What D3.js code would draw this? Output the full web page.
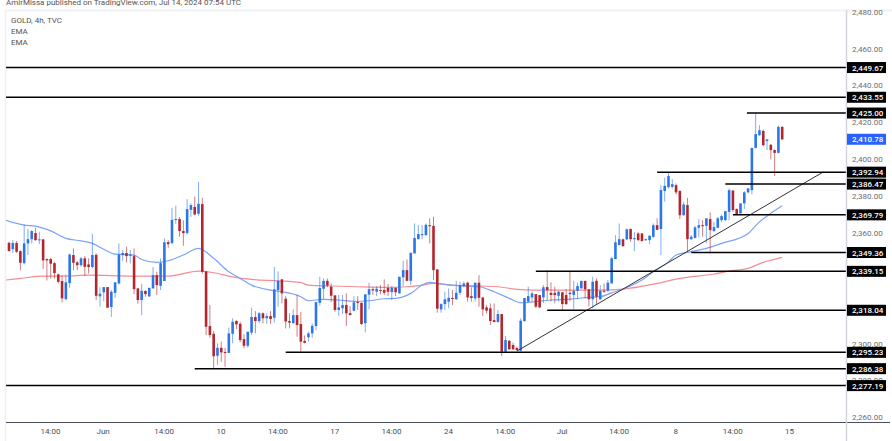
<!DOCTYPE html>
<html>
<head>
<meta charset="utf-8">
<script src="https://cdn.jsdelivr.net/npm/d3@7"></script>
<style>
    html, body { margin: 0; padding: 0; background: #fff; overflow: hidden; }
    text { font-family: Roboto, sans-serif; }
    .axis path, .axis line { display: none; }
</style>
</head>
<body>
<div id="chart"></div>
<script>
const opens = [
    2354.6,2351.2,2354.5,2350.1,2343.6,2354.3,2356.6,2359.9,2356.3,2356.5,
    2345.8,2345.8,2343.6,2337.5,2333.9,2324.1,2332.8,2348,2344,2342.5,
    2346.2,2342.9,2341.5,2348.1,2325.6,2327.8,2330.6,2319.8,2327.5,2332.6,
    2348,2349.1,2347.6,2347.4,2329.9,2323.6,2328.5,2325.6,2329.9,2337.1,
    2331.3,2333.9,2355,2354.5,2367.1,2367.5,2361,2359.9,2372.5,2374.1,
    2370.4,2375.6,2339.1,2309.5,2305.3,2293.4,2297.7,2295.4,2294.9,2305.3,
    2312.2,2310.7,2302.4,2298.8,2305.9,2314.4,2312.2,2316.4,2313.7,2314.9,
    2314,2329,2334.8,2324.3,2312.2,2311,2315.4,2310.6,2301.4,2303.4,
    2305.5,2309.5,2322.1,2329.7,2334,2330.8,2326.1,2318.2,2319.1,2320.9,
    2316.5,2317.8,2322.5,2322.1,2311,2326.5,2329.5,2328.1,2329,2329,
    2330.1,2327.9,2330.2,2327.2,2335.9,2339.8,2334,2348.9,2356.6,2358.8,
    2358.8,2364.2,2363.8,2340.2,2318.5,2321.4,2322.7,2324.7,2324,2327.5,
    2331.2,2333,2325.7,2324.5,2333,2325,2319.6,2319.1,2312.7,2311.7,
    2316,2295.6,2301.5,2299.2,2297.6,2296.1,2312.2,2322.7,2325,2326.8,
    2326.3,2325,2330.6,2327.5,2327.5,2325.9,2327.8,2326.3,2327.5,2326.3,
    2328.6,2329.9,2334,2329.4,2324,2334,2324,2328.6,2328.6,2332.6,
    2345.8,2353.4,2356.5,2356.5,2362.1,2356.6,2359.7,2359.7,2356.1,2356.1,
    2357.9,2364.2,2362.1,2382.7,2384.8,2385,2385.9,2382.7,2369.6,2375.1,
    2356.6,2357.3,2362.8,2364.2,2363.8,2367.5,2361,2362.8,2366.9,2366.9,
    2371.4,2383,2372.9,2370.6,2376,2382,2383.2,2406.1,2413,2415.3,
    2409.8,2407.8,2404.9,2403.4,2417.5
];
const closes = [
    2350.1,2354.5,2349.8,2343.8,2354.3,2356.6,2361,2356.1,2356.5,2345.1,
    2345.1,2343.3,2338.2,2333.5,2324.5,2333.2,2348.3,2343.8,2342.5,2346.2,
    2341.6,2341.5,2348,2325.9,2327,2330.6,2319.4,2328.1,2333.2,2348.3,
    2349.1,2347.4,2348.3,2329.5,2323.6,2328.6,2326.8,2330.2,2337.1,2331.7,
    2343.6,2354.9,2353.9,2367.1,2367.5,2361,2359.9,2372.9,2375.1,2370,
    2375.8,2338.9,2309.1,2304.6,2293.1,2297.7,2295.2,2295,2305.5,2311.8,
    2310.4,2301.9,2298.8,2306.4,2314.4,2312.2,2316.4,2313.7,2314.9,2313.3,
    2329.4,2334,2327.2,2312,2311.3,2315.4,2310,2301,2300.4,2305.5,
    2309.6,2322.5,2330.1,2334,2331.5,2325.9,2318.2,2319.6,2320.9,2316.4,
    2315.4,2322.3,2322,2310.6,2326.7,2329.5,2328.8,2329.7,2328.5,2327.5,
    2328.1,2330.2,2327.8,2336.2,2339.8,2334,2349.2,2357.2,2359.4,2359.4,
    2364.4,2363.8,2339.8,2318.9,2321.4,2324,2324.8,2324.3,2327.5,2331.7,
    2332.6,2325,2324.7,2333,2324.8,2318.5,2317.8,2312.2,2311.7,2316,
    2295.6,2301.9,2296.9,2296.9,2296.5,2312.4,2324.7,2325.7,2327.2,2320,
    2319.6,2330.5,2329,2326.3,2326.3,2328.1,2321.4,2321.4,2326.8,2328.6,
    2331.2,2334,2329.4,2324,2333.5,2325.4,2328.6,2328.1,2333,2346.2,
    2354.9,2356.6,2352.8,2361.9,2356.6,2357.2,2356.1,2355.6,2356.6,2358.4,
    2364.2,2361.7,2383.2,2385.5,2390.8,2386.4,2382,2369.6,2375.4,2356.6,
    2357.9,2363,2364.2,2363.7,2367.9,2361.5,2363.1,2367.9,2369.1,2371.8,
    2383.2,2372.4,2370,2376,2382,2384.1,2406.1,2413.6,2415.7,2407.6,
    2410.7,2404.9,2403.4,2417.5,2410.78
];
const highs = [
    2355.2,2356.1,2355.6,2350.5,2364.6,2362.1,2361.5,2362.8,2360.6,2356.6,
    2346.2,2346.5,2344.3,2338,2337.1,2337.5,2348.7,2351.6,2344.7,2347,
    2347.4,2346.2,2359.5,2348.9,2330.5,2330.6,2330.6,2329,2333.2,2354.3,
    2350.7,2352.5,2350.7,2351.6,2330.2,2332.3,2329,2330.2,2341.5,2338.9,
    2346.2,2357,2356.1,2373.6,2374.7,2368.6,2366.9,2378.3,2376,2379.6,
    2387.7,2379,2339.3,2320.9,2306.8,2300.1,2301,2297.7,2308.6,2313.7,
    2312.6,2311.8,2305,2306.4,2319.4,2317.6,2317.2,2316.9,2316.4,2317.6,
    2341.6,2339.1,2334.8,2325.7,2316.4,2318.5,2326.3,2317.1,2304.4,2306.4,
    2310.9,2322.5,2336.2,2335.3,2335.3,2332.6,2326.3,2326.3,2326.3,2327.2,
    2320.3,2325.7,2325.7,2322.1,2326.7,2333,2330.5,2331.2,2331.7,2334.8,
    2332.3,2331.2,2330.5,2336.2,2344.9,2345.6,2349.2,2365.1,2364.2,2364.2,
    2365.1,2367.9,2368.7,2340.2,2321.8,2328.1,2329.9,2329,2334,2333.5,
    2333.5,2333.5,2330.5,2333,2337.1,2325,2320.9,2321.8,2321.8,2318.2,
    2316,2304.1,2301.9,2300.4,2298.3,2313.7,2324.7,2330.8,2328.1,2326.8,
    2326.3,2331.7,2339.8,2333.2,2330.8,2328.6,2327.8,2329.4,2338.8,2334,
    2333,2334,2334,2329.4,2336.2,2335.3,2331.7,2332.6,2334.4,2347,
    2358.8,2365.1,2357,2362.4,2362.4,2360.4,2360.4,2359.9,2357,2358.8,
    2365.1,2367.9,2385.9,2389.9,2392.7,2389.2,2386.8,2383.2,2376.9,2379,
    2358.8,2363.9,2367.5,2366.9,2367.9,2371.1,2366,2368.7,2370,2371.8,
    2384.1,2383,2373.3,2376,2382.7,2384.4,2406.1,2424.8,2418.4,2416.1,
    2410.7,2408.1,2405.3,2418.3,2417.9
];
const lows = [
    2350.1,2349.1,2349.1,2339.8,2342.9,2348,2354.3,2355.7,2353.9,2340.4,
    2334.2,2335.3,2335.3,2332.6,2322.3,2323.4,2330.2,2339.8,2339.7,2341.6,
    2336.7,2338,2340.8,2323.6,2320,2323,2319.4,2314.5,2324.8,2332.1,
    2344.7,2344,2343.5,2326.7,2321.6,2315.4,2325.4,2325.2,2329.9,2326.3,
    2329,2333.9,2351.9,2353.8,2364.9,2357.9,2353,2359.2,2368.7,2369.6,
    2369.3,2338,2304.6,2303.1,2286.6,2288.3,2290.1,2287.4,2294.9,2300.1,
    2307.9,2300.7,2297.4,2297.7,2304.6,2305.5,2311.1,2310.9,2310.6,2310.6,
    2311.3,2320,2321.8,2308.2,2308.2,2311,2303.7,2295.6,2300.1,2301,
    2303.1,2307.3,2320.5,2324,2330.5,2322.5,2317.2,2314.9,2316,2309.5,
    2315.4,2317.5,2318.2,2310,2305.9,2318.5,2326.3,2325.7,2326.7,2326.3,
    2325.7,2323.6,2325.7,2327.2,2331.2,2334,2331.7,2348.9,2356.5,2356.5,
    2358.3,2354.3,2334.4,2316.7,2316.7,2318.2,2319.1,2320.9,2323.6,2326.3,
    2330.5,2322.7,2322.7,2322.7,2320,2314.9,2316.4,2310,2311.5,2311.3,
    2293.2,2295.6,2296.5,2296.5,2296.1,2295.6,2311.8,2322.5,2322.7,2319.2,
    2319.2,2322,2323.6,2322.7,2321.8,2322.7,2318.2,2320.9,2323,2318.7,
    2324,2329.9,2324.7,2320,2319.1,2320.9,2323.6,2327.5,2328.1,2332.6,
    2345.8,2353.4,2352.5,2356.1,2355.2,2350.1,2355.6,2355.2,2355.6,2353.8,
    2357.3,2361.4,2348,2376.9,2384.1,2384.1,2380.9,2367.5,2369.3,2349.8,
    2356.1,2357,2357.7,2357.9,2354.5,2348.9,2360.6,2362.4,2366,2366.4,
    2366.9,2371.4,2369.6,2369.6,2372.9,2381.4,2380.9,2405.8,2412.5,2407,
    2404.9,2399.8,2390.8,2403.1,2410.3
];

// EMAs at these bars
const fastEmaBars = [-1,4,7,11,15,19,22,25,28,33,35,39,42,46,50,54,58,61,64,69,72,77,79,83,87,91,95,99,102,106,109,111,113,120,124,128,132,135,137,143,148,153,156,159,162,167,170,174,176,180,184,188,195,198,201,204];
const fastEmaValues = [2366.9,2364.2,2363.7,2361.1,2357,2355.7,2354.3,2351.1,2348.5,2348,2345.6,2344,2344.9,2348,2351.6,2346.2,2338.9,2335.3,2331.7,2329,2328.1,2325.4,2323.2,2324,2323.6,2322.9,2323.2,2324.3,2324.5,2327.2,2331.7,2333.2,2332.6,2331.2,2330.8,2328.1,2324.5,2322.1,2322.3,2323.6,2324.1,2325,2325.4,2327.5,2329.5,2334.4,2338.9,2344.3,2348,2349.8,2351.6,2354.3,2359.7,2366,2370.6,2374.7];
const slowEmaBars = [-1,3,9,15,21,33,42,50,54,59,64,71,77,79,85,92,100,105,109,112,116,123,129,134,139,148,156,162,171,177,186,190,195,199,204];
const slowEmaValues = [2334.4,2335.3,2336.6,2336.6,2337.1,2336.6,2336.6,2339.3,2338.4,2336.2,2334.8,2334,2333,2331.7,2331.2,2330.8,2330.5,2330.8,2331.7,2332.6,2331.7,2331.3,2330.8,2329.4,2329,2329,2329,2329.5,2332.6,2335.3,2337.7,2339.3,2340.8,2344,2346.7];

// horizontal levels and the bar each one starts from (null = left edge)
const levelValues = [2449.67,2433.55,2425.00,2392.94,2386.47,2369.79,2349.36,2339.15,2318.04,2295.23,2286.38,2277.19];
const levelStartBars = [null,null,194.7,171,189,191,180,139,142,73,49,null];

const trendBars = [134,214.8];
const trendValues = [2295.9,2393];

const priceTicks = [2480,2460,2440,2420,2400,2380,2360,2340,2320,2300,2280,2260];
const lastPrice = 2410.78;
const timeTickBars = [10.8,24.7,40.8,55.8,70.8,85.8,100.8,115.8,130.8,145.8,160.8,175.8,190.8,205.8];
const timeTickLabels = ["14:00","Jun","14:00","10","14:00","17","14:00","24","14:00","Jul","14:00","8","14:00","15"];
const legendLines = ["GOLD, 4h, TVC","EMA","EMA"];

document.addEventListener('DOMContentLoaded', () => {
    const width = 892;
    const height = 441;
    const paneLeft = 6;
    const paneRight = 846;
    const paneTop = 10;
    const paneBottom = 422;
    const upColor = "#2b76ea";
    const downColor = "#b2262e";
    const priceFormat = d3.format(",.2f");

    const svg = d3.select("#chart")
        .append("svg")
        .attr("width", width)
        .attr("height", height);

    const x = d3.scaleLinear().domain([0, 204]).range([9, 782.2]);
    const y = d3.scaleLinear().domain([2260, 2460]).range([417.3, 48.5]);

    svg.append("defs").append("clipPath")
        .attr("id", "pane")
        .append("rect")
        .attr("x", paneLeft)
        .attr("y", paneTop)
        .attr("width", paneRight - paneLeft)
        .attr("height", paneBottom - paneTop);

    // frame
    svg.append("line").attr("x1", 5.5).attr("x2", 5.5).attr("y1", 10).attr("y2", 441).attr("stroke", "#eef0f6").attr("stroke-width", 1.5);
    svg.append("line").attr("x1", 5).attr("x2", 892).attr("y1", 10.5).attr("y2", 10.5).attr("stroke", "#f0f1f6").attr("stroke-width", 2);

    const pane = svg.append("g").attr("clip-path", "url(#pane)");

    const emaLine = d3.line().x(d => x(d[0])).y(d => y(d[1])).curve(d3.curveMonotoneX);

    pane.append("path")
        .datum(d3.zip(slowEmaBars, slowEmaValues))
        .attr("d", emaLine)
        .attr("fill", "none")
        .attr("stroke", "#f58d92")
        .attr("stroke-width", 1.2);

    pane.append("path")
        .datum(d3.zip(fastEmaBars, fastEmaValues))
        .attr("d", emaLine)
        .attr("fill", "none")
        .attr("stroke", "#7ba3f7")
        .attr("stroke-width", 1.2);

    const candles = pane.append("g")
        .selectAll("g")
        .data(opens.map((open, i) => ({ i, open, close: closes[i], high: highs[i], low: lows[i] })))
        .enter()
        .append("g");

    candles.append("line")
        .attr("x1", d => x(d.i))
        .attr("x2", d => x(d.i))
        .attr("y1", d => y(d.high))
        .attr("y2", d => y(d.low))
        .attr("stroke", d => d.close >= d.open ? upColor : downColor)
        .attr("stroke-opacity", 0.6)
        .attr("stroke-width", 1);

    candles.append("rect")
        .attr("x", d => x(d.i) - 1.3)
        .attr("width", 2.6)
        .attr("y", d => y(Math.max(d.open, d.close)))
        .attr("height", d => Math.max(1, Math.abs(y(d.open) - y(d.close))))
        .attr("fill", d => d.close >= d.open ? upColor : downColor);

    // trend line
    pane.append("line")
        .attr("x1", x(trendBars[0]))
        .attr("x2", x(trendBars[1]))
        .attr("y1", y(trendValues[0]))
        .attr("y2", y(trendValues[1]))
        .attr("stroke", "#333")
        .attr("stroke-width", 1);

    // levels
    pane.append("g")
        .selectAll("line")
        .data(levelValues)
        .enter()
        .append("line")
        .attr("x1", (d, i) => levelStartBars[i] === null ? paneLeft : x(levelStartBars[i]))
        .attr("x2", paneRight)
        .attr("y1", d => y(d))
        .attr("y2", d => y(d))
        .attr("stroke", "#000")
        .attr("stroke-width", 1.5);

    // price axis
    const priceAxis = svg.append("g")
        .attr("class", "axis")
        .attr("transform", `translate(${paneRight},0)`)
        .call(d3.axisRight(y).tickValues(priceTicks).tickFormat(priceFormat).tickSize(0).tickPadding(6));

    priceAxis.selectAll("text")
        .attr("fill", "#6a6d78")
        .attr("font-size", 8);

    // time axis
    const timeAxis = svg.append("g")
        .attr("class", "axis")
        .attr("transform", `translate(0,${paneBottom})`)
        .call(d3.axisBottom(x).tickValues(timeTickBars).tickFormat((d, i) => timeTickLabels[i]).tickSize(0).tickPadding(6));

    timeAxis.selectAll("text")
        .attr("fill", "#4a4d58")
        .attr("font-size", 8);

    svg.append("line").attr("x1", 6).attr("x2", 890).attr("y1", paneBottom + 0.5).attr("y2", paneBottom + 0.5).attr("stroke", "#4a4e5c").attr("stroke-width", 1);
    svg.append("line").attr("x1", paneRight + 0.5).attr("x2", paneRight + 0.5).attr("y1", 10).attr("y2", 441).attr("stroke", "#d3d5dc").attr("stroke-width", 1.5);

    // price labels on the axis
    const labels = svg.append("g")
        .selectAll("g")
        .data(levelValues)
        .enter()
        .append("g")
        .attr("transform", d => `translate(${paneRight + 1},${y(d)})`);

    labels.append("rect")
        .attr("y", -5.5)
        .attr("width", 39)
        .attr("height", 11)
        .attr("fill", "#000");

    labels.append("text")
        .attr("x", 5)
        .attr("y", 3)
        .attr("fill", "#fff")
        .attr("font-size", 8)
        .attr("font-weight", 500)
        .text(d => priceFormat(d));

    const lastLabel = svg.append("g")
        .attr("transform", `translate(${paneRight + 1},${y(lastPrice)})`);

    lastLabel.append("rect")
        .attr("y", -5.5)
        .attr("width", 39)
        .attr("height", 11)
        .attr("fill", "#2962ff");

    lastLabel.append("text")
        .attr("x", 5)
        .attr("y", 3)
        .attr("fill", "#fff")
        .attr("font-size", 8)
        .attr("font-weight", 500)
        .text(priceFormat(lastPrice));

    // header and legend
    svg.append("text")
        .attr("x", 6)
        .attr("y", 5)
        .attr("fill", "#555")
        .attr("font-size", 8)
        .text("AmirMissa published on TradingView.com, Jul 14, 2024 07:54 UTC");

    svg.append("g")
        .selectAll("text")
        .data(legendLines)
        .enter()
        .append("text")
        .attr("x", 11)
        .attr("y", (d, i) => 23 + i * 11.2)
        .attr("fill", "#555")
        .attr("font-size", 8)
        .text(d => d);
});
</script>
</body>
</html>
